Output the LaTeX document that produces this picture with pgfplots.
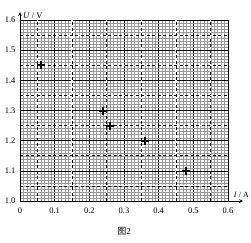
\documentclass[border=0pt]{standalone}
\usepackage{pgfplots}
\pgfplotsset{compat=1.18}
\usepackage{fontspec}
\setmainfont{Liberation Serif}
\newfontfamily\cjk{Noto Sans CJK SC}
\begin{document}
\begin{tikzpicture}
\begin{axis}[
  at={(0,0)}, anchor=south west,
  set layers,
  scale only axis, width=208pt, height=181pt,
  xmin=0, xmax=0.6, ymin=1.0, ymax=1.6,
  enlargelimits=false,
  axis lines=left,
  x axis line style={-stealth, line width=0.7pt, shorten >=-15pt},
  y axis line style={-stealth, line width=0.7pt, shorten >=-8pt},
  xtick={0,0.1,0.2,0.3,0.4,0.5,0.6},
  xticklabels={0,0.1,0.2,0.3,0.4,0.5,0.6},
  ytick={1.0,1.1,1.2,1.3,1.4,1.5,1.6},
  yticklabels={1.0,1.1,1.2,1.3,1.4,1.5,1.6},
  minor tick num=9,
  major tick length=0pt, minor tick length=0pt,
  grid=both,
  minor grid style={black!40, line width=0.3pt},
  major grid style={black, line width=0.6pt},
  extra x ticks={0.05,0.15,0.25,0.35,0.45,0.55},
  extra x tick labels={},
  extra y ticks={1.05,1.15,1.25,1.35,1.45,1.55},
  extra y tick labels={},
  extra tick style={major tick length=0pt, grid style={black!85, line width=0.6pt, dash pattern=on 3pt off 2.5pt, preaction={draw=white, line width=1.1pt, solid}}},
  tick label style={font=\fontsize{8.5}{10}\selectfont},
  /pgf/number format/assume math mode=true,
  xticklabel style={yshift=-3pt},
  yticklabel style={xshift=-1pt},
  clip=false,
]
\addplot[only marks, mark=+, mark size=4pt, black, mark options={solid, line width=2pt}]
  coordinates {(0.06,1.45) (0.24,1.30) (0.26,1.25) (0.36,1.20) (0.48,1.10)};
\node[anchor=south east, inner sep=0pt, font=\fontsize{8}{10}\selectfont] at (rel axis cs:1,0) [xshift=21pt, yshift=3pt] {\textit{I} / A};
\node[anchor=south west, inner sep=0pt, font=\fontsize{8.5}{10}\selectfont] at (rel axis cs:0,1) [xshift=3pt, yshift=1pt] {\textit{U} / V};
\node[font=\fontsize{9}{10}\selectfont] at (rel axis cs:0.5,0) [yshift=-30pt] {{\cjk 图}2};
\end{axis}
\path[use as bounding box] (-20pt,-41pt) rectangle (231pt,201pt);
\end{tikzpicture}
\end{document}
